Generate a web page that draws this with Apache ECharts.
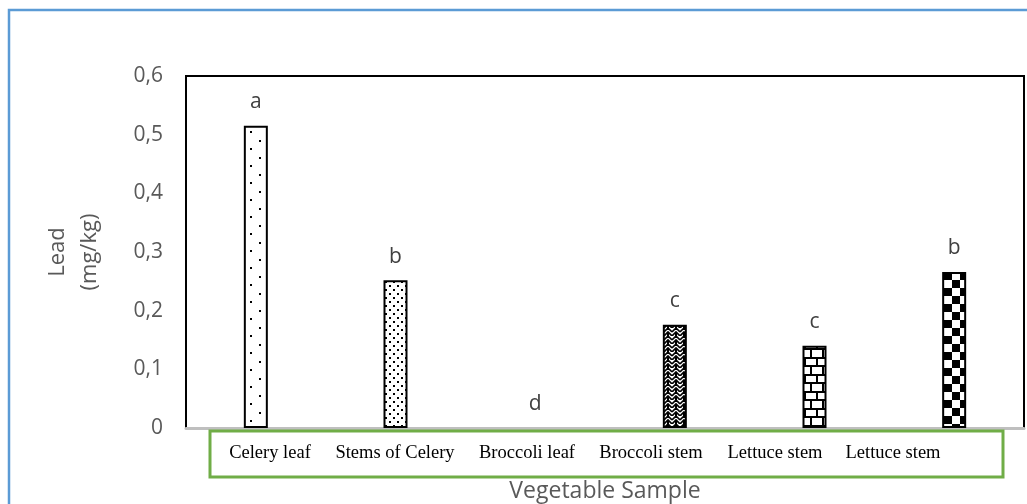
<!DOCTYPE html>
<html>
<head>
<meta charset="utf-8">
<script src="https://cdn.jsdelivr.net/npm/echarts@6/dist/echarts.min.js"></script>
<style>
  html, body { margin: 0; padding: 0; background: #fff; }
  #chart { width: 1027px; height: 504px; }
</style>
</head>
<body>
<div id="chart"></div>
<script>
// vegetable samples and lead content (mg/kg)
var categories = ['Celery leaf', 'Stems of Celery', 'Broccoli leaf', 'Broccoli stem', 'Lettuce stem', 'Lettuce stem'];
var leadValues = [0.515, 0.252, 0, 0.176, 0.140, 0.266];
var groupLetters = ['a', 'b', 'd', 'c', 'c', 'b'];
var yTicks = [0, 0.1, 0.2, 0.3, 0.4, 0.5, 0.6];

// little canvas tiles for the black & white fills
function makeTile(w, h, draw) {
  var c = document.createElement('canvas');
  c.width = w;
  c.height = h;
  var ctx = c.getContext('2d');
  ctx.fillStyle = '#fff';
  ctx.fillRect(0, 0, w, h);
  ctx.fillStyle = '#000';
  ctx.strokeStyle = '#000';
  draw(ctx);
  return { image: c, repeat: 'repeat' };
}

var fills = [
  // sparse dots
  makeTile(17, 17, function (ctx) {
    ctx.fillRect(4, 4, 2, 2);
    ctx.fillRect(12, 12, 2, 2);
  }),
  // dense dots
  makeTile(8, 8, function (ctx) {
    ctx.fillRect(1, 1, 2, 2);
    ctx.fillRect(5, 5, 2, 2);
  }),
  // nothing to show
  makeTile(4, 4, function () {}),
  // weave
  makeTile(8, 8, function (ctx) {
    ctx.lineWidth = 1.6;
    ctx.beginPath();
    ctx.moveTo(0, 4); ctx.lineTo(4, 0); ctx.lineTo(8, 4);
    ctx.moveTo(0, 8); ctx.lineTo(4, 4); ctx.lineTo(8, 8);
    ctx.stroke();
    ctx.fillRect(3, 6, 2, 2);
  }),
  // bricks
  makeTile(12, 17, function (ctx) {
    ctx.fillRect(0, 0, 12, 2);
    ctx.fillRect(0, 8, 12, 2);
    ctx.fillRect(0, 0, 2, 8);
    ctx.fillRect(6, 8, 2, 9);
  }),
  // checkerboard
  makeTile(16, 16, function (ctx) {
    ctx.fillRect(0, 0, 8, 8);
    ctx.fillRect(8, 8, 8, 8);
  })
];

var barData = leadValues.map(function (v, i) {
  return {
    value: v,
    itemStyle: { color: fills[i], borderWidth: v === 0 ? 0 : 2 }
  };
});

// box with the sample names, sitting under the axis
var labelCenters = [270, 395, 527, 651, 775, 893];
var boxGraphics = [{
  type: 'rect',
  shape: { x: 210, y: 431, width: 793, height: 46 },
  style: { fill: '#fff', stroke: '#70AD47', lineWidth: 3 },
  z: 10
}];
categories.forEach(function (name, i) {
  boxGraphics.push({
    type: 'text',
    x: labelCenters[i],
    y: 453,
    style: {
      text: name,
      fill: '#000',
      font: '18.5px "Liberation Serif"',
      align: 'center',
      verticalAlign: 'middle'
    },
    z: 11
  });
});

var option = {
  backgroundColor: '#fff',
  animation: false,
  grid: {
    left: 186,
    top: 76,
    right: 3,
    bottom: 76,
    outerBoundsMode: 'none',
    show: true,
    borderColor: '#000',
    borderWidth: 2
  },
  xAxis: {
    type: 'category',
    data: categories,
    axisLine: { lineStyle: { color: '#bfbfbf', width: 3 } },
    axisTick: { show: false },
    axisLabel: { show: false },
    name: 'Vegetable Sample',
    nameLocation: 'middle',
    nameGap: 52,
    nameTextStyle: { color: '#595959', fontSize: 23, fontFamily: 'Open Sans' }
  },
  yAxis: {
    type: 'value',
    min: yTicks[0],
    max: yTicks[yTicks.length - 1],
    interval: 0.1,
    splitLine: { show: false },
    axisTick: { show: false },
    axisLine: { show: true, lineStyle: { color: '#000', width: 2 } },
    axisLabel: {
      margin: 23,
      color: '#595959',
      fontSize: 21,
      fontFamily: 'Open Sans',
      formatter: function (v) {
        return String(Math.round(v * 10) / 10).replace('.', ',');
      }
    },
    name: 'Lead\n(mg/kg)',
    nameLocation: 'middle',
    nameGap: 80,
    nameTextStyle: { color: '#595959', fontSize: 22, fontFamily: 'Open Sans', lineHeight: 32 }
  },
  series: [{
    type: 'bar',
    data: barData,
    barWidth: 24,
    itemStyle: { borderColor: '#000', borderWidth: 2 },
    label: {
      show: true,
      position: 'top',
      distance: 13,
      color: '#404040',
      fontSize: 21,
      fontFamily: 'Open Sans',
      formatter: function (p) { return groupLetters[p.dataIndex]; }
    }
  }],
  graphic: [{
    type: 'rect',
    shape: { x: 9, y: 10, width: 1040, height: 520 },
    style: { fill: 'none', stroke: '#5B9BD5', lineWidth: 2.5 },
    silent: true
  }].concat(boxGraphics)
};

var chart = echarts.init(document.getElementById('chart'));
chart.setOption(option);
</script>
</body>
</html>
